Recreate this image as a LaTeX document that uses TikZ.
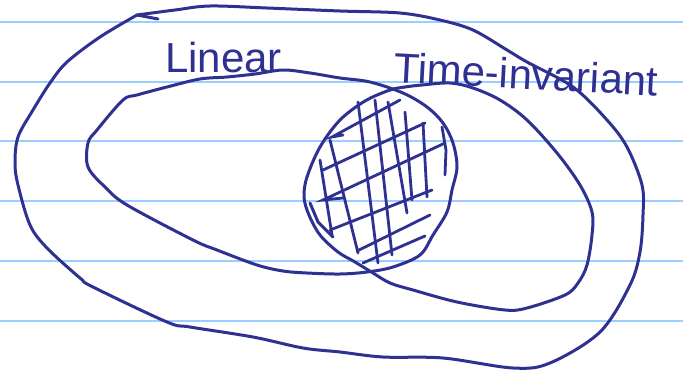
\documentclass[tikz,border=0pt]{standalone}
\usepackage{fontspec}
\setmainfont{Liberation Sans}
\definecolor{ink}{RGB}{46,49,146}
\definecolor{rule}{RGB}{155,205,255}

\begin{document}
\begin{tikzpicture}[x=1pt, y=-1pt,
		pen/.style={draw=ink, line width=3pt, line cap=round, line join=round},
		hatch/.style={draw=ink, line width=2.8pt, line cap=round},
		label/.style={text=ink, font=\fontsize{42}{48}\selectfont, inner sep=0pt}]
	
	\useasboundingbox (0,0) rectangle (683,370);
	
	% lined paper
	\foreach \k in {0,...,5}
		\draw [rule, line width=2pt] (0,21.7+59.8*\k) -- (683,21.7+59.8*\k);
	
	% outer set
	\draw [pen] (158,19) -- (137,15);
	\draw [pen] plot [smooth, tension=0.55] coordinates {(137,15) (175,10) (210,6) (267,8) (340,11)
		(400,13) (440,20) (473,30) (507,50) (527,62) (573,87) (607,120) (627,147) (642,185)
		(643,215) (640,252) (630,285) (600,332) (550,363) (513,368) (443,358) (383,357)
		(340,352) (303,348) (253,337) (190,327) (167,322) (93,287) (80,278) (47,248) (30,225)
		(18,185) (15,163) (18,137) (33,110) (50,83) (67,62) (100,37) (137,15)};
	
	% linear
	\draw [pen] plot [smooth cycle, tension=0.55] coordinates {(255,74) (283,70) (310,73) (340,78)
		(370,82) (403,93) (427,107) (443,123) (453,143) (457,167) (452,190) (447,212) (433,235)
		(420,255) (393,267) (367,272) (340,274) (307,273) (283,271) (257,265) (217,250)
		(193,240) (127,205) (105,187) (88,167) (88,143) (97,130) (123,100) (137,95) (167,87)
		(200,79) (227,77)};
	
	% time-invariant
	\draw [pen] plot [smooth cycle, tension=0.55] coordinates {(422,85) (450,83) (473,88) (500,100)
		(527,120) (557,153) (580,185) (592,212) (592,235) (587,265) (578,283) (565,295)
		(527,308) (505,310) (457,302) (413,290) (390,283) (373,273) (355,262) (338,252)
		(320,235) (309,215) (304,197) (307,177) (320,147) (340,120) (365,101) (390,90) (405,87)};
	\draw [pen] (310,203) -- (318,222) -- (333,237);
	
	% hatching of the intersection
	\draw [hatch] (343,135) -- (332,137) -- (400,100);
	\draw [hatch] (323,170) -- (425,123);
	\draw [hatch] (343,198) -- (323,200) -- (445,143);
	\draw [hatch] (330,230) -- (432,190);
	\draw [hatch] (357,251) -- (430,215);
	\draw [hatch] (363,263) -- (425,236);
	\draw [hatch] (320,160) -- (332,235);
	\draw [hatch] (330,140) -- (358,253);
	\draw [hatch] (358,102) -- (378,263);
	\draw [hatch] (375,100) -- (392,255);
	\draw [hatch] (388,102) -- (407,213);
	\draw [hatch] (405,112) -- (412,200);
	\draw [hatch] (423,123) -- (427,197);
	\draw [hatch] (442,127) -- (446,150) -- (445,175);
	
	% labels
	\node [label, anchor=base west] (linear) at (165,72) {Linear};
	\node [label, anchor=base west, rotate=-3] (timeinv) at (393,82) {Time-invariant};
	
\end{tikzpicture}
\end{document}
